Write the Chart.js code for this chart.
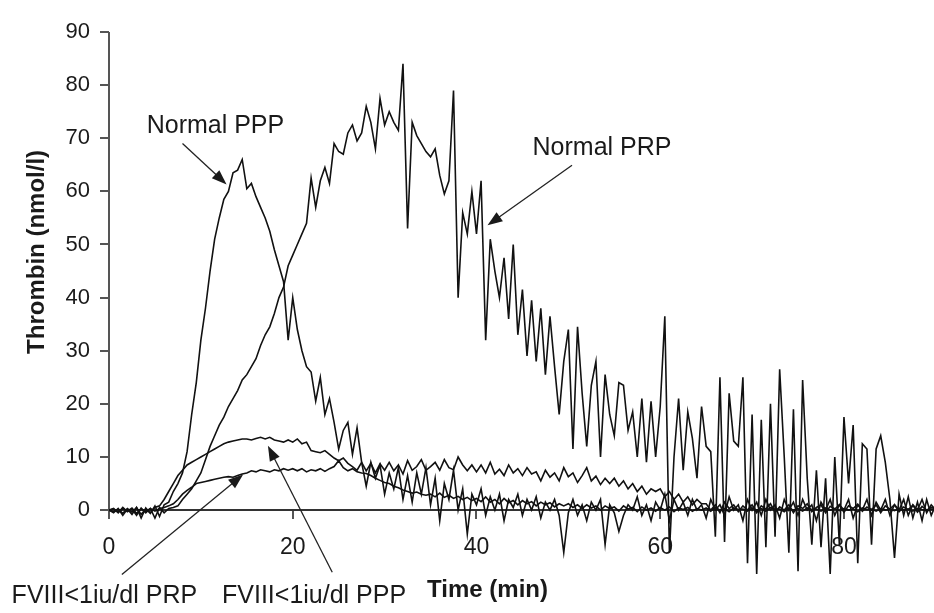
<!DOCTYPE html>
<html>
<head>
<meta charset="utf-8">
<title>Thrombin generation</title>
<script src="https://cdn.jsdelivr.net/npm/chart.js@4.4.1/dist/chart.umd.min.js"></script>
<style>
  html, body { margin: 0; padding: 0; background: #fff; }
</style>
</head>
<body>
<canvas id="thrombinChart" width="934" height="613"></canvas>
<script>
// Readings are taken every 0.5 min from 0 to 90 min (one row = 5 min)
const timeStep = 0.5;

// Normal platelet-poor plasma
const normalPPP = [
    0, -0.5, 0.3, -1, 0.2, -0.8, 0.5, -1.5, 0.4, -0.6,       // 0
    0.8, -1.2, 1, 1.5, 3.5, 5, 7, 11, 18, 24,                // 5
    32, 38, 45, 51, 55, 58.5, 60, 63.5, 64, 66,              // 10
    60.5, 61.5, 59, 57, 55, 52.5, 49, 46, 43, 32,            // 15
    40, 34, 30, 27, 26, 20.5, 25, 18, 21, 16.5,              // 20
    11.5, 15, 16.5, 10.5, 15.5, 9, 4.5, 9, 6, 8.5,           // 25
    3, 7, 4, 8, 2, 6.5, 1.5, 7, 3, 8,                        // 30
    1, 6, -2, 5, 2, 7.5, 0, 4, -4.5, 3,                      // 35
    1, 4, -1, 2.5, 0, 3, -2, 2, 0.5, 3,                      // 40
    -1, 2, 0, 2.5, -1.5, 1.5, 0, 2, -1, -8,                  // 45
    -0.5, 2, -1, 1, -2, 1.5, 0, 2, -6.5, 1,                  // 50
    -0.5, -4, -1, 1, 0, 2.5, -1, 1, -2, 1.5,                 // 55
    0, 3, -2, 2, 0, 1.5, -1, 2, 0, 1,                        // 60
    -1.5, 2, 0, 1, -1, 2.5, 0, 1, -2, 2,                     // 65
    0, 1.5, -1, 2, 0, 1, -1.5, 2, 0, 1.5,                    // 70
    -1, 2, 0, 1, -2, 1.5, 0, 2, -1, 1,                       // 75
    0, 2, -1.5, 1, 0, 2, -1, 1.5, 0, 2,                      // 80
    -1, 1, 0, 2, -1, 1, 0, 2, -0.5, 1,                       // 85
    0                                                        // 90
];

// Normal platelet-rich plasma
const normalPRP = [
    0, 0.3, -0.5, 0.5, -0.3, 0.2, -1, 0.4, -0.5, 0.3,        // 0
    -1.5, 0.5, -0.5, 0.3, 0.5, 0.8, 2, 3, 4, 5.5,            // 5
    7, 9.5, 12, 14, 16, 17.5, 19.5, 21, 22.5, 24.5,          // 10
    25.5, 27, 28.5, 31, 33, 34.5, 37, 40, 42, 46,            // 15
    48, 50, 52, 54, 62.5, 57, 62, 64.5, 61.5, 69,            // 20
    67.5, 67, 71, 72.5, 69.5, 71, 76, 73, 68, 77.5,          // 25
    72.5, 75, 73, 71.5, 84, 53, 73, 70.5, 69, 67.5,          // 30
    66.5, 68, 63, 59.5, 62, 79, 40, 56, 52, 60,              // 35
    52, 62, 32, 51, 45, 40, 47.5, 36, 50, 33,                // 40
    41.5, 29, 39.5, 28, 38, 25.5, 36.5, 27, 18, 28,          // 45
    34, 11.5, 34.5, 22, 12, 23.5, 28, 10, 25.5, 18,          // 50
    14, 24, 23.5, 15, 18.5, 10, 21, 9, 20.5, 10,             // 55
    19.5, 36.5, -8, 10, 21, 7.5, 18.5, 13.5, 6, 19.5,        // 60
    12, 11, -5, 25, -6, 22, 13, 12, 25, -10,                 // 65
    18, -12, 17, -7, 20, -5, 26.5, 10, -8, 19,               // 70
    -11.5, 24.5, 6, -6.5, 7.5, -7, 6, -12, 10, -6.5,         // 75
    17.5, 5, 16, -10, 12.5, 11.5, -6.5, 11.5, 14, 9,         // 80
    2, -9, 3, -1, 2.5, -1.5, 1.5, -2, 2, -1,                 // 85
    1                                                        // 90
];

// FVIII < 1 iu/dl platelet-poor plasma
const fviiiPPP = [
    0, -0.3, 0.2, -0.6, 0.3, -0.4, 0.5, -0.8, 0.2, -0.5,     // 0
    0.5, 0.8, 2, 3.5, 5, 6.5, 7.5, 8.5, 9, 9.5,              // 5
    10, 10.5, 11, 11.5, 12, 12.5, 12.8, 13, 13.2, 13.4,      // 10
    13.4, 13.2, 13.5, 13.7, 13.4, 13.7, 13.2, 13, 12.8, 13.2, // 15
    12.8, 13.4, 12.5, 12.8, 11.2, 11, 10.8, 11.2, 10.5, 9.8, // 20
    9.3, 9.8, 8.8, 8.2, 7.5, 9, 7.4, 8.8, 7, 8.7,            // 25
    7.5, 9, 7.4, 8.5, 6.8, 9.3, 7.5, 8.2, 9.5, 7.5,          // 30
    8.2, 9, 7.5, 9.5, 8, 7.6, 10, 8.5, 7.4, 8.5,             // 35
    7.2, 8.5, 7, 9, 6.8, 7.7, 6.5, 8.5, 7, 7.8,              // 40
    6.5, 8, 6.8, 7.2, 5.5, 7.5, 6.2, 7, 5.5, 8,              // 45
    6.3, 7, 5.2, 6.5, 8, 5.5, 6.4, 4.8, 6, 5,                // 50
    6, 4.5, 5.5, 4, 5, 3.5, 4.5, 3, 4, 3.5,                  // 55
    4, 2.5, 3.5, 2, 3, 1.5, 2.5, 1, 2, 1.2,                  // 60
    1.2, 0, 1, -0.5, 1.5, 0.3, 1, -0.3, 0.8, 0,              // 65
    1, -0.5, 0.8, 0.2, 1.2, -0.4, 0.6, 0, 1, -0.5,           // 70
    0.8, 0.3, 1.2, -0.3, 0.5, 1, -0.5, 0.7, 0.2, 1,          // 75
    -0.4, 0.8, 0.3, 1.1, -0.2, 0.6, 0, 1, -0.5, 0.8,         // 80
    0.2, 1, -0.3, 0.6, 0.1, 0.9, -0.4, 0.7, 0, 0.5,          // 85
    0.2                                                      // 90
];

// FVIII < 1 iu/dl platelet-rich plasma
const fviiiPRP = [
    0, 0.2, -0.4, 0.3, -0.2, 0.4, -0.6, 0.2, -0.3, 0.3,      // 0
    -0.2, 0.3, 0.5, 0.8, 1.2, 2, 3, 3.7, 4.3, 5,             // 5
    5.2, 5.4, 5.6, 5.8, 6, 6.2, 6.3, 6.2, 6.5, 6.8,          // 10
    7, 7.4, 7.2, 7.6, 7.4, 7.2, 7.6, 7.4, 7.8, 7.5,          // 15
    7.8, 7.4, 7.8, 7.2, 7.6, 7.4, 7.8, 7.3, 7.8, 8.2,        // 20
    9.3, 8, 7.4, 7.8, 7.2, 7, 6.9, 6.5, 6, 5.6,              // 25
    5.2, 5, 4.5, 4.2, 3.8, 3.5, 3.2, 3.4, 3, 2.8,            // 30
    3, 2.5, 3.2, 2.4, 2.8, 2.2, 2.6, 2, 2.4, 1.8,            // 35
    2.2, 1.6, 2.5, 1.5, 2, 1.2, 2.2, 1.4, 1.8, 1,            // 40
    1.8, 1.2, 1.6, 0.8, 1.5, 1, 1.4, 0.6, 1.2, 0.8,          // 45
    1.2, 0.5, 1, 0.3, 1, 0.4, 0.8, 0, 0.8, 0.3,              // 50
    0.6, -0.2, 0.8, 0.2, 0.5, -0.3, 0.6, 0, 0.4, -0.2,       // 55
    0.5, 0, 0.6, -0.3, 0.4, 0.1, 0.5, -0.2, 0.3, 0,          // 60
    0.4, -0.2, 0.5, 0, 0.3, -0.3, 0.4, 0.1, 0.2, -0.2,       // 65
    0.4, 0, 0.3, -0.2, 0.5, 0.1, 0.2, -0.3, 0.4, 0,          // 70
    0.3, -0.2, 0.4, 0.1, 0.2, -0.2, 0.4, 0, 0.3, -0.1,       // 75
    0.3, 0, 0.2, -0.3, 0.4, 0.1, 0.2, -0.2, 0.3, 0,          // 80
    0.2, -0.1, 0.3, 0, 0.2, -0.2, 0.3, 0.1, 0, 0.2,          // 85
    0                                                        // 90
];

const times = normalPPP.map((_, i) => i * timeStep);

// Axis ticks
const xTickValues = [0, 20, 40, 60, 80];
const yTickValues = [0, 10, 20, 30, 40, 50, 60, 70, 80, 90];

const FONT = '"Liberation Sans", Arial, Helvetica, sans-serif';
const INK = '#111';
const AXIS_COLOR = '#555';
const TEXT_COLOR = '#1a1a1a';

// Callouts: label text position and arrow (from -> tip), in data units
const callouts = [
    { text: 'Normal PPP', at: [4.1, 70.9], from: [8.0, 69.0], tip: [12.8, 61.3] },
    { text: 'Normal PRP', at: [46.1, 66.8], from: [50.4, 64.9], tip: [41.2, 53.6] },
    { text: 'FVIII<1iu/dl PRP', at: [-10.6, -17.4], from: [1.4, -12.1], tip: [14.6, 6.7] },
    { text: 'FVIII<1iu/dl PPP', at: [12.3, -17.4], from: [24.3, -11.7], tip: [17.3, 12.1] }
];

function toPoints(values) {
    return values.map((v, i) => ({ x: times[i], y: v }));
}

function drawArrow(ctx, x1, y1, x2, y2) {
    const ang = Math.atan2(y2 - y1, x2 - x1);
    const len = 15, half = 5.5;
    ctx.beginPath();
    ctx.moveTo(x1, y1);
    ctx.lineTo(x2 - Math.cos(ang) * len * 0.7, y2 - Math.sin(ang) * len * 0.7);
    ctx.stroke();
    ctx.beginPath();
    ctx.moveTo(x2, y2);
    ctx.lineTo(x2 - len * Math.cos(ang) + half * Math.sin(ang), y2 - len * Math.sin(ang) - half * Math.cos(ang));
    ctx.lineTo(x2 - len * Math.cos(ang) - half * Math.sin(ang), y2 - len * Math.sin(ang) + half * Math.cos(ang));
    ctx.closePath();
    ctx.fill();
}

// Draws the y axis line (only from 0 up), the titles and the callouts
const decorations = {
    id: 'decorations',
    beforeDatasetsDraw(chart) {
        const ctx = chart.ctx;
        const yScale = chart.scales.y;
        const left = chart.chartArea.left;
        ctx.save();
        ctx.strokeStyle = AXIS_COLOR;
        ctx.lineWidth = 2;
        ctx.beginPath();
        ctx.moveTo(left, yScale.getPixelForValue(90));
        ctx.lineTo(left, yScale.getPixelForValue(0) + 8);
        ctx.stroke();
        ctx.restore();
    },
    afterDraw(chart) {
        const ctx = chart.ctx;
        const xs = chart.scales.x;
        const ys = chart.scales.y;
        const px = v => xs.getPixelForValue(v);
        const py = v => ys.getPixelForValue(v);
        ctx.save();
        ctx.fillStyle = TEXT_COLOR;

        // axis titles
        ctx.font = 'bold 24px ' + FONT;
        ctx.textAlign = 'center';
        ctx.textBaseline = 'alphabetic';
        ctx.fillText('Time (min)', px(41.2), py(-16.3));
        ctx.save();
        ctx.translate(px(-7.9) + 1, py(48.6));
        ctx.rotate(-Math.PI / 2);
        ctx.textBaseline = 'middle';
        ctx.fillText('Thrombin (nmol/l)', 0, 0);
        ctx.restore();

        // callout labels and arrows
        ctx.font = '25px ' + FONT;
        ctx.textAlign = 'left';
        ctx.textBaseline = 'alphabetic';
        ctx.strokeStyle = '#222';
        ctx.fillStyle = '#1a1a1a';
        ctx.lineWidth = 1.3;
        callouts.forEach(c => {
            ctx.fillText(c.text, px(c.at[0]), py(c.at[1]));
            drawArrow(ctx, px(c.from[0]), py(c.from[1]), px(c.tip[0]), py(c.tip[1]));
        });
        ctx.restore();
    }
};

const seriesList = [
    { label: 'Normal PPP', values: normalPPP },
    { label: 'Normal PRP', values: normalPRP },
    { label: 'FVIII<1iu/dl PPP', values: fviiiPPP },
    { label: 'FVIII<1iu/dl PRP', values: fviiiPRP }
];

const chart = new Chart(document.getElementById('thrombinChart'), {
    type: 'line',
    data: {
        datasets: seriesList.map(s => ({
            label: s.label,
            data: toPoints(s.values),
            borderColor: INK,
            borderWidth: 1.6,
            pointRadius: 0,
            tension: 0,
            fill: false
        }))
    },
    options: {
        responsive: false,
        animation: false,
        layout: { padding: { top: 32, right: 0, bottom: 15, left: 0 } },
        plugins: {
            legend: { display: false },
            tooltip: { enabled: false }
        },
        scales: {
            x: {
                type: 'linear',
                min: 0,
                max: 89.8,
                position: { y: 0 },
                afterBuildTicks: scale => { scale.ticks = xTickValues.map(v => ({ value: v })); },
                grid: { drawOnChartArea: false, tickLength: 8, color: AXIS_COLOR, lineWidth: 2 },
                border: { display: true, color: '#333', width: 2 },
                ticks: {
                    color: TEXT_COLOR,
                    padding: 16,
                    maxRotation: 0,
                    font: { family: FONT, size: 23 }
                }
            },
            y: {
                type: 'linear',
                min: -15,
                max: 90,
                afterBuildTicks: scale => { scale.ticks = yTickValues.map(v => ({ value: v })); },
                afterFit: scale => { scale.width = 109; },
                grid: { drawOnChartArea: false, tickLength: 9, color: AXIS_COLOR, lineWidth: 2 },
                border: { display: false },
                ticks: {
                    color: TEXT_COLOR,
                    padding: 10,
                    font: { family: FONT, size: 22 }
                }
            }
        }
    },
    plugins: [decorations]
});
</script>
</body>
</html>
